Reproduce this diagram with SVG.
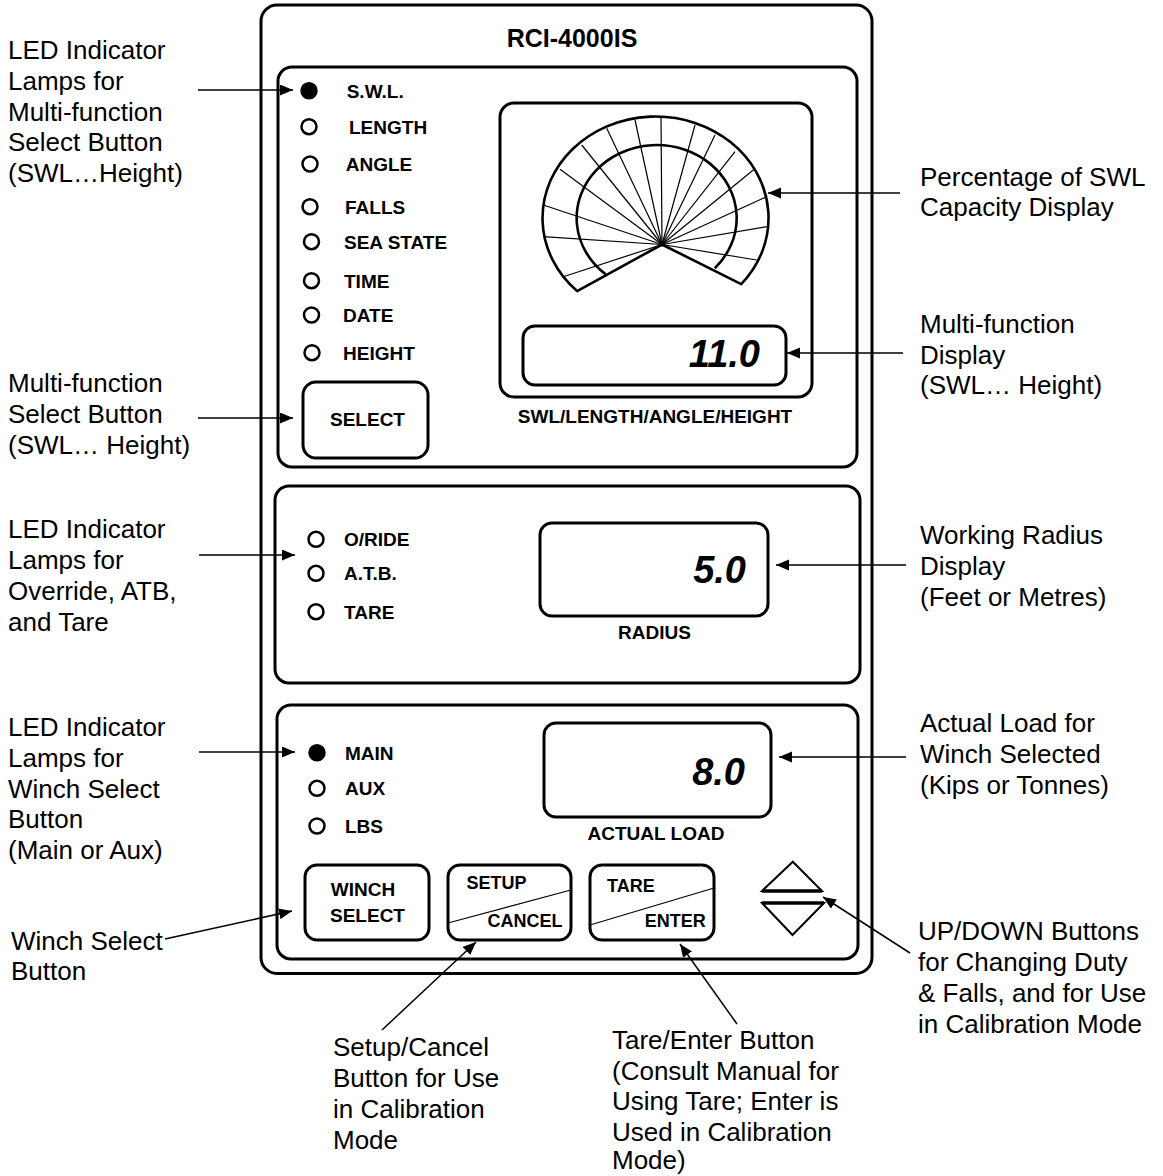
<svg xmlns="http://www.w3.org/2000/svg" width="1163" height="1176" viewBox="0 0 1163 1176">
<defs>
<style>
.box{fill:none;stroke:#000;stroke-width:3}
.led{fill:none;stroke:#000;stroke-width:2.5}
.ledon{fill:#000;stroke:#000;stroke-width:1.5}
.thin{fill:none;stroke:#000;stroke-width:1.2}
.arc{fill:none;stroke:#000;stroke-width:2.6;stroke-linejoin:round}
.lbl{font-family:'Liberation Sans',Arial,sans-serif;font-size:19px;font-weight:bold;fill:#000}
.btn{font-family:'Liberation Sans',Arial,sans-serif;font-size:18px;font-weight:bold;fill:#000}
.num{font-family:'Liberation Sans',Arial,sans-serif;font-size:38px;font-weight:bold;font-style:italic;text-anchor:end;fill:#000}
.note{font-family:'Liberation Sans',Arial,sans-serif;font-size:26px;fill:#000}
.conn{fill:none;stroke:#000;stroke-width:1.5;marker-end:url(#ah)}
.mid{text-anchor:middle}
.end{text-anchor:end}
</style>
<marker id="ah" markerUnits="userSpaceOnUse" markerWidth="14" markerHeight="12" refX="13" refY="5.5" orient="auto">
<path d="M0,0 L13,5.5 L0,11 z" fill="#000"/>
</marker>
</defs>
<rect width="1163" height="1176" fill="#fff"/>

<g id="console">
<rect class="box" x="261" y="5" width="611" height="968.5" rx="16"/>
<text class="lbl mid" x="572" y="46.5" style="font-size:25px">RCI-4000IS</text>
</g>

<g id="panel-top">
<rect class="box" x="278" y="67" width="579" height="400" rx="14"/>
<circle class="ledon" cx="309" cy="90.7" r="8"/>
<circle class="led" cx="309" cy="126.7" r="7.5"/>
<circle class="led" cx="310" cy="164" r="7.5"/>
<circle class="led" cx="310" cy="206.7" r="7.5"/>
<circle class="led" cx="311.5" cy="241.7" r="7.5"/>
<circle class="led" cx="311.5" cy="280.7" r="7.5"/>
<circle class="led" cx="311.5" cy="315" r="7.5"/>
<circle class="led" cx="312" cy="352.7" r="7.5"/>
<text class="lbl" x="346.7" y="97.5">S.W.L.</text>
<text class="lbl" x="349" y="133.5">LENGTH</text>
<text class="lbl" x="345.7" y="170.8">ANGLE</text>
<text class="lbl" x="345" y="213.5">FALLS</text>
<text class="lbl" x="344" y="248.5">SEA STATE</text>
<text class="lbl" x="344" y="287.5">TIME</text>
<text class="lbl" x="343" y="321.8">DATE</text>
<text class="lbl" x="343" y="359.5">HEIGHT</text>
</g>

<g id="select-button">
<rect class="box" x="303" y="382" width="125" height="76" rx="13"/>
<text class="lbl mid" x="367.5" y="426">SELECT</text>
</g>

<g id="capacity-display">
<rect class="box" x="500" y="103" width="312" height="294" rx="14"/>
<g class="thin">
<line x1="662" y1="244.5" x2="563.3" y2="276.7"/>
<line x1="662" y1="244.5" x2="543.3" y2="236.7"/>
<line x1="662" y1="244.5" x2="543.3" y2="205"/>
<line x1="662" y1="244.5" x2="560" y2="169.3"/>
<line x1="662" y1="244.5" x2="581.7" y2="145"/>
<line x1="662" y1="244.5" x2="606.7" y2="128.3"/>
<line x1="662" y1="244.5" x2="635" y2="120"/>
<line x1="662" y1="244.5" x2="661" y2="116.7"/>
<line x1="662" y1="244.5" x2="695" y2="125"/>
<line x1="662" y1="244.5" x2="715" y2="135"/>
<line x1="662" y1="244.5" x2="735" y2="151.7"/>
<line x1="662" y1="244.5" x2="753.3" y2="170"/>
<line x1="662" y1="244.5" x2="766.7" y2="196.7"/>
<line x1="662" y1="244.5" x2="767" y2="226.7"/>
<line x1="662" y1="244.5" x2="756.7" y2="260"/>
</g>
<path class="arc" d="M577.1,291.1 A113,101.5 0 1 1 741.2,284.2 L662,244.5 Z"/>
<path class="arc" d="M605.8,274.4 A80,73 0 1 1 714.8,268.2"/>
<circle cx="662" cy="244.5" r="2" fill="#000"/>
</g>

<g id="multifunction-display">
<rect class="box" x="523" y="326" width="263" height="59" rx="12"/>
<text class="num" x="760" y="366.7">11.0</text>
<text class="lbl mid" x="655" y="422.5">SWL/LENGTH/ANGLE/HEIGHT</text>
</g>

<g id="panel-middle">
<rect class="box" x="275" y="486" width="585" height="197" rx="14"/>
<circle class="led" cx="316" cy="539.3" r="7.5"/>
<circle class="led" cx="316" cy="573.3" r="7.5"/>
<circle class="led" cx="316" cy="611.7" r="7.5"/>
<text class="lbl" x="344" y="546">O/RIDE</text>
<text class="lbl" x="344" y="580">A.T.B.</text>
<text class="lbl" x="344" y="618.5">TARE</text>
</g>

<g id="radius-display">
<rect class="box" x="540" y="523" width="228" height="93" rx="12"/>
<text class="num" x="746" y="583">5.0</text>
<text class="lbl mid" x="654.5" y="639">RADIUS</text>
</g>

<g id="panel-bottom">
<rect class="box" x="277" y="705" width="581" height="254" rx="14"/>
<circle class="ledon" cx="317" cy="752.7" r="8"/>
<circle class="led" cx="317" cy="788.3" r="7.5"/>
<circle class="led" cx="317" cy="826" r="7.5"/>
<text class="lbl" x="345" y="759.5">MAIN</text>
<text class="lbl" x="345" y="795">AUX</text>
<text class="lbl" x="345" y="833">LBS</text>
</g>

<g id="load-display">
<rect class="box" x="544" y="723" width="227" height="94" rx="12"/>
<text class="num" x="745" y="785">8.0</text>
<text class="lbl mid" x="656" y="839.5">ACTUAL LOAD</text>
</g>

<g id="winch-select-button">
<rect class="box" x="305" y="865" width="124" height="75" rx="12"/>
<text class="lbl mid" x="363" y="896">WINCH</text>
<text class="lbl mid" x="367.5" y="922">SELECT</text>
</g>

<g id="setup-cancel-button">
<rect class="box" x="448" y="865" width="123" height="75" rx="12"/>
<line class="thin" x1="448" y1="923" x2="571" y2="890"/>
<text class="btn" x="466.5" y="889">SETUP</text>
<text class="btn end" x="562.6" y="927">CANCEL</text>
</g>

<g id="tare-enter-button">
<rect class="box" x="590" y="865" width="124" height="75" rx="12"/>
<line class="thin" x1="590" y1="925" x2="714" y2="888"/>
<text class="btn" x="607" y="891.5">TARE</text>
<text class="btn end" x="705.8" y="926.5">ENTER</text>
</g>

<g id="up-down-buttons">
<path d="M792.8,861.7 L762,891 L822,891 Z" fill="none" stroke="#000" stroke-width="2" stroke-linejoin="miter"/>
<line x1="762" y1="891" x2="822" y2="891" stroke="#000" stroke-width="3.5"/>
<path d="M762,903 L824,903 L792.5,935 Z" fill="none" stroke="#000" stroke-width="2"/>
<line x1="762" y1="903" x2="824" y2="903" stroke="#000" stroke-width="3.5"/>
</g>

<g id="labels">
<text class="note" x="8" y="59">LED Indicator<tspan x="8" y="90">Lamps for</tspan><tspan x="8" y="121">Multi-function</tspan><tspan x="8" y="151">Select Button</tspan><tspan x="8" y="182">(SWL…Height)</tspan></text>
<text class="note" x="8" y="392">Multi-function<tspan x="8" y="423">Select Button</tspan><tspan x="8" y="454">(SWL… Height)</tspan></text>
<text class="note" x="8" y="538">LED Indicator<tspan x="8" y="569">Lamps for</tspan><tspan x="8" y="600">Override, ATB,</tspan><tspan x="8" y="631">and Tare</tspan></text>
<text class="note" x="8" y="736">LED Indicator<tspan x="8" y="767">Lamps for</tspan><tspan x="8" y="798">Winch Select</tspan><tspan x="8" y="828">Button</tspan><tspan x="8" y="859">(Main or Aux)</tspan></text>
<text class="note" x="11" y="950">Winch Select<tspan x="11" y="980">Button</tspan></text>
<text class="note" x="920" y="186">Percentage of SWL<tspan x="920" y="216">Capacity Display</tspan></text>
<text class="note" x="920" y="333">Multi-function<tspan x="920" y="364">Display</tspan><tspan x="920" y="394">(SWL… Height)</tspan></text>
<text class="note" x="920" y="544">Working Radius<tspan x="920" y="575">Display</tspan><tspan x="920" y="606">(Feet or Metres)</tspan></text>
<text class="note" x="920" y="732">Actual Load for<tspan x="920" y="763">Winch Selected</tspan><tspan x="920" y="794">(Kips or Tonnes)</tspan></text>
<text class="note" x="918" y="940">UP/DOWN Buttons<tspan x="918" y="971">for Changing Duty</tspan><tspan x="918" y="1002">&amp; Falls, and for Use</tspan><tspan x="918" y="1033">in Calibration Mode</tspan></text>
<text class="note" x="333" y="1056">Setup/Cancel<tspan x="333" y="1087">Button for Use</tspan><tspan x="333" y="1118">in Calibration</tspan><tspan x="333" y="1149">Mode</tspan></text>
<text class="note" x="612" y="1049">Tare/Enter Button<tspan x="612" y="1079.5">(Consult Manual for</tspan><tspan x="612" y="1110">Using Tare; Enter is</tspan><tspan x="612" y="1140.5">Used in Calibration</tspan><tspan x="612" y="1169">Mode)</tspan></text>
</g>

<g id="connectors">
<line class="conn" x1="198" y1="90" x2="293" y2="90"/>
<line class="conn" x1="198" y1="418" x2="293" y2="418"/>
<line class="conn" x1="199" y1="555" x2="295" y2="555"/>
<line class="conn" x1="199" y1="752" x2="295" y2="752"/>
<line class="conn" x1="165" y1="939" x2="292" y2="911"/>
<line class="conn" x1="382" y1="1030" x2="476" y2="942"/>
<line class="conn" x1="737" y1="1024" x2="680" y2="944"/>
<line class="conn" x1="910" y1="953" x2="823" y2="897"/>
<line class="conn" x1="900" y1="193" x2="768" y2="193"/>
<line class="conn" x1="903" y1="353" x2="787" y2="353"/>
<line class="conn" x1="906" y1="565" x2="776" y2="565"/>
<line class="conn" x1="906" y1="757" x2="779" y2="757"/>
</g>
</svg>
